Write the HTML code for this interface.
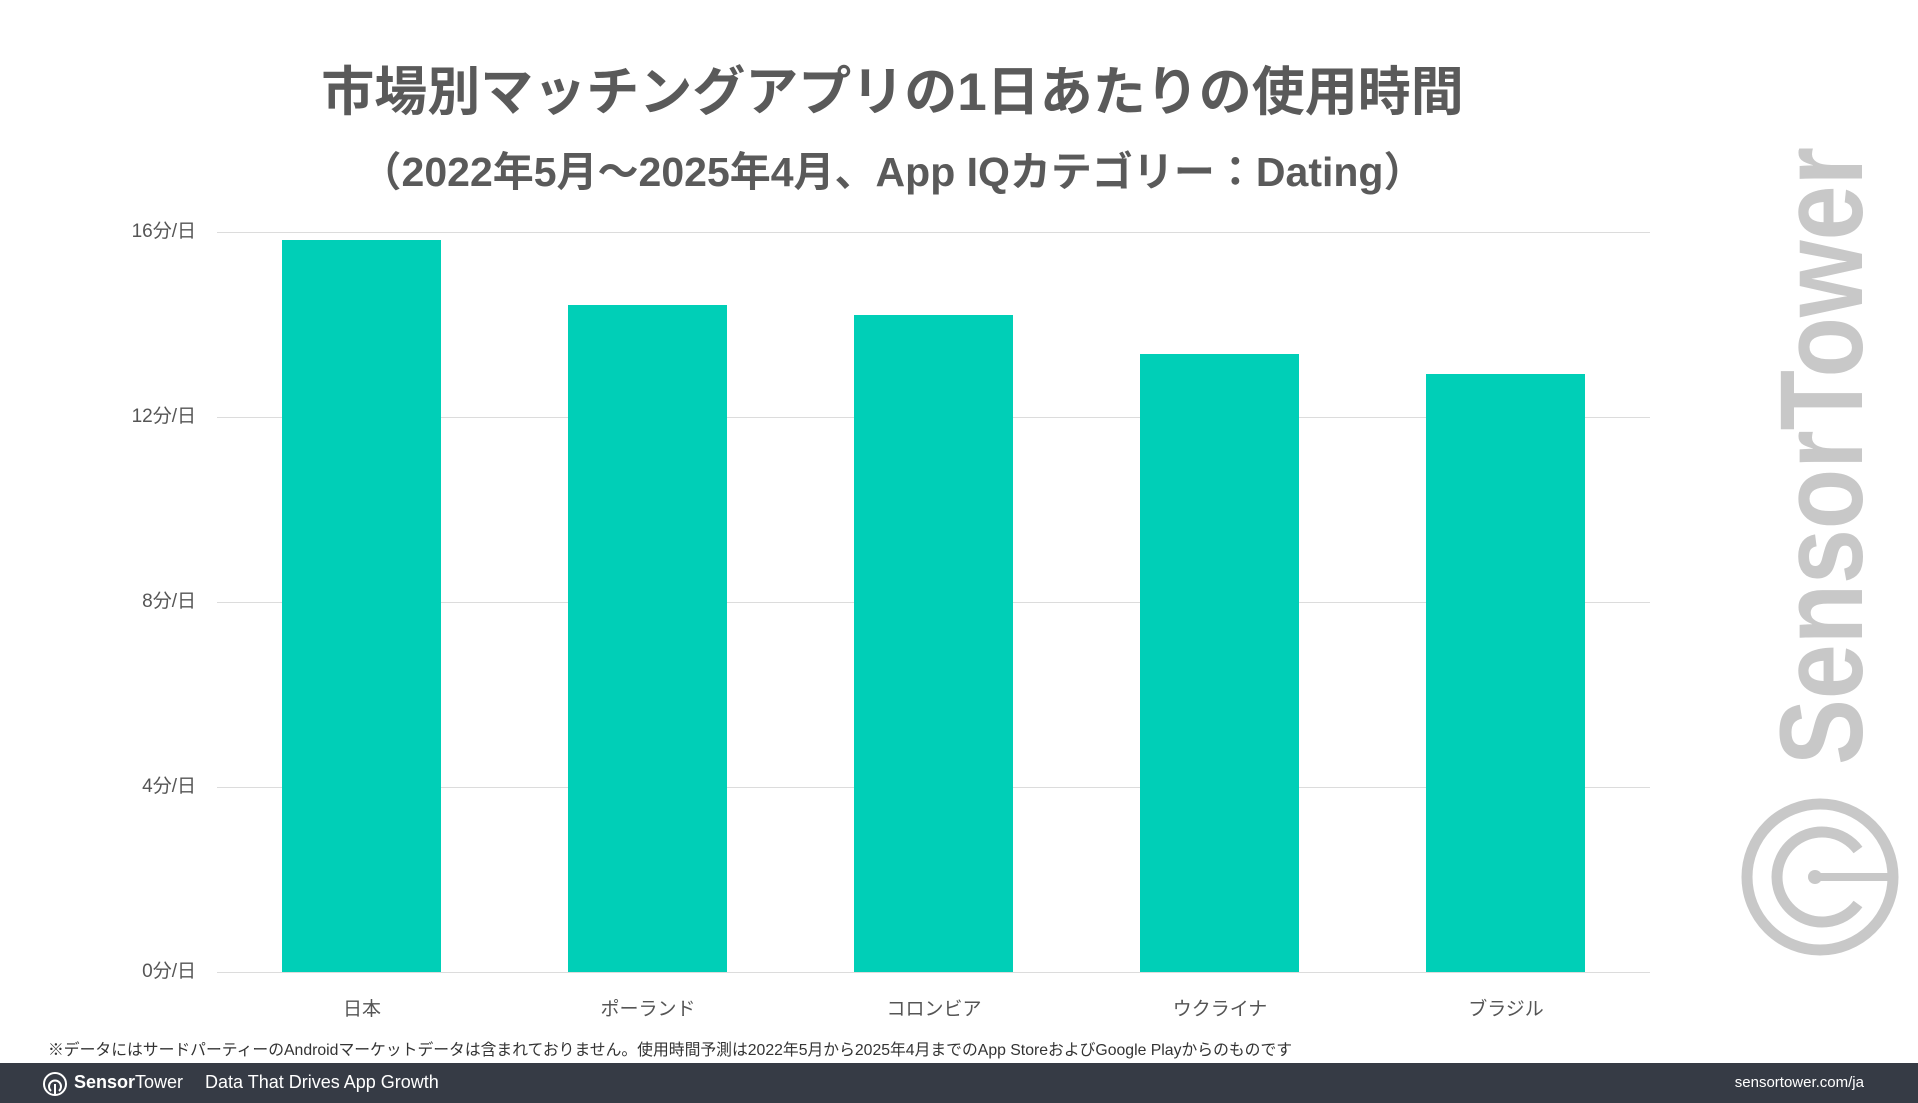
<!DOCTYPE html>
<html><head><meta charset="utf-8"><style>
body{margin:0;width:1918px;height:1103px;background:#fff;overflow:hidden;position:relative;font-family:"Liberation Sans","Noto Sans CJK JP",sans-serif;color:#555}
.t{position:absolute;left:0;width:1785px;text-align:center;font-weight:bold;white-space:nowrap}
.yl{position:absolute;right:1722px;font-size:19px;color:#555;line-height:20px}
.xl{position:absolute;width:200px;text-align:center;font-size:19px;top:994px}
.g{position:absolute;left:217px;width:1433px;height:1px;background:#dcdcdc}
.b{position:absolute;width:159px;background:#00cfb7;bottom:131px}
</style></head><body>
<div class="t" style="top:50px;font-size:53px;color:#5a5a5a">市場別マッチングアプリの1日あたりの使用時間</div>
<div class="t" style="top:138px;font-size:41px;color:#5a5a5a">（2022年5月～2025年4月、App IQカテゴリー：Dating）</div>
<div class="g" style="top:232px"></div><div class="g" style="top:417px"></div><div class="g" style="top:602px"></div><div class="g" style="top:787px"></div><div class="g" style="top:972px"></div>
<div class="yl" style="top:222px">16分/日</div><div class="yl" style="top:407px">12分/日</div><div class="yl" style="top:592px">8分/日</div><div class="yl" style="top:777px">4分/日</div><div class="yl" style="top:962px">0分/日</div>
<div class="b" style="left:282px;top:240px"></div>
<div class="b" style="left:568px;top:305px"></div>
<div class="b" style="left:854px;top:315px"></div>
<div class="b" style="left:1140px;top:354px"></div>
<div class="b" style="left:1426px;top:374px"></div>
<div class="xl" style="left:262px">日本</div><div class="xl" style="left:548px">ポーランド</div><div class="xl" style="left:834px">コロンビア</div><div class="xl" style="left:1120px">ウクライナ</div><div class="xl" style="left:1406px">ブラジル</div>
<svg style="position:absolute;left:0;top:0" width="1918" height="1103">
<text x="0" y="0" transform="translate(1862,765) rotate(-90)" font-size="118" font-weight="bold" fill="#c8c8c8" textLength="618" lengthAdjust="spacingAndGlyphs" font-family="Liberation Sans,sans-serif">SensorTower</text>
<circle cx="1820" cy="877" r="73" fill="none" stroke="#c8c8c8" stroke-width="11"/>
<path d="M1858 850 A45 45 0 1 0 1858 904" fill="none" stroke="#c8c8c8" stroke-width="11"/>
<line x1="1815" y1="877" x2="1892" y2="877" stroke="#c8c8c8" stroke-width="8"/>
<circle cx="1815" cy="877" r="7" fill="#c8c8c8"/>
</svg>
<div style="position:absolute;left:48px;top:1037px;font-size:15.8px;color:#333;white-space:nowrap">※データにはサードパーティーのAndroidマーケットデータは含まれておりません。使用時間予測は2022年5月から2025年4月までのApp StoreおよびGoogle Playからのものです</div>
<div style="position:absolute;left:0;top:1063px;width:1918px;height:40px;background:#363b45;color:#fff">
<svg style="position:absolute;left:42px;top:8px" width="26" height="26"><circle cx="13" cy="13" r="11" fill="none" stroke="#fff" stroke-width="2"/><path d="M9 20 A6 6 0 1 1 17 20" fill="none" stroke="#fff" stroke-width="2"/><line x1="13" y1="13" x2="13" y2="24" stroke="#fff" stroke-width="2"/></svg>
<div style="position:absolute;left:74px;top:9px;font-size:18px"><b>Sensor</b>Tower</div>
<div style="position:absolute;left:205px;top:9px;font-size:18px">Data That Drives App Growth</div>
<div style="position:absolute;right:54px;top:11px;font-size:15px">sensortower.com/ja</div>
</div>
</body></html>
